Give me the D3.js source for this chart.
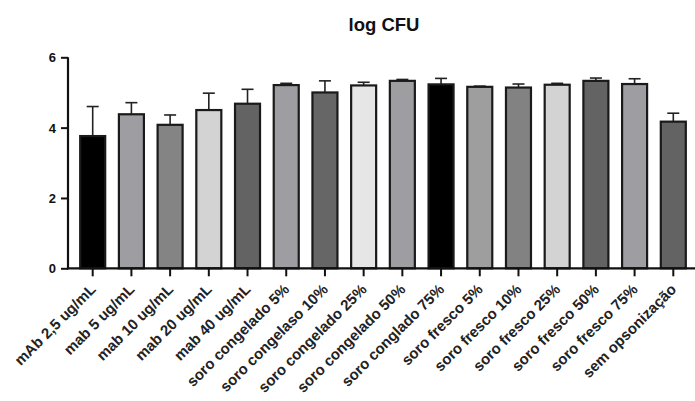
<!DOCTYPE html>
<html>
<head>
<meta charset="utf-8">
<script src="https://cdn.jsdelivr.net/npm/d3@7"></script>
<style>
  html, body { margin: 0; padding: 0; background: #fff; }
  svg { display: block; font-family: "Liberation Sans", Arial, sans-serif; }
</style>
</head>
<body>
<svg id="chart" width="695" height="401"></svg>
<script>
// Groups (opsonization conditions)
const categories = [
  "mAb 2,5 ug/mL", "mab 5 ug/mL", "mab 10 ug/mL", "mab 20 ug/mL", "mab 40 ug/mL",
  "soro congelado 5%", "soro congelaso 10%", "soro congelado 25%", "soro congelado 50%",
  "soro conglado 75%", "soro fresco 5%", "soro fresco 10%", "soro fresco 25%",
  "soro fresco 50%", "soro fresco 75%", "sem opsonização"
];
// Mean log CFU per group
const means = [3.76, 4.38, 4.08, 4.50, 4.68, 5.21, 5.00, 5.20, 5.33, 5.23, 5.16, 5.14, 5.22, 5.33, 5.24, 4.17];
// Upper error (SD) per group
const errors = [0.84, 0.33, 0.28, 0.48, 0.41, 0.05, 0.33, 0.09, 0.04, 0.17, 0.02, 0.10, 0.04, 0.08, 0.15, 0.24];
// Bar fill per group
const fills = [
  "#000000", "#9e9ea2", "#848484", "#d3d3d3", "#636363",
  "#9e9ea2", "#666666", "#e6e6e6", "#9e9ea2", "#000000",
  "#9e9e9e", "#828282", "#d3d3d3", "#636363", "#9e9ea2", "#636363"
];
const yTicks = [0, 2, 4, 6];
const title = "log CFU";

const svg = d3.select("#chart");
const plotLeft = 68, plotRight = 698, plotTop = 57.3, plotBottom = 268.3;

const x = d3.scaleBand()
  .domain(categories)
  .range([plotLeft, plotRight])
  .paddingInner(0.354)
  .paddingOuter(0.315);

const y = d3.scaleLinear().domain([0, 6]).range([plotBottom, plotTop]);

// Title
svg.append("text")
  .attr("x", 384).attr("y", 31)
  .attr("text-anchor", "middle")
  .attr("font-size", 18.5).attr("font-weight", "bold")
  .attr("fill", "#111")
  .text(title);

const data = categories.map((c, i) => ({ c, m: means[i], e: errors[i], f: fills[i] }));

const g = svg.append("g");

// Error bars (upper only) drawn behind bars
g.selectAll("line.err")
  .data(data).enter().append("line")
  .attr("class", "err")
  .attr("x1", d => x(d.c) + x.bandwidth() / 2)
  .attr("x2", d => x(d.c) + x.bandwidth() / 2)
  .attr("y1", d => y(d.m))
  .attr("y2", d => y(d.m + d.e))
  .attr("stroke", "#222").attr("stroke-width", 1.6);

g.selectAll("line.cap")
  .data(data).enter().append("line")
  .attr("class", "cap")
  .attr("x1", d => x(d.c) + x.bandwidth() / 2 - 6)
  .attr("x2", d => x(d.c) + x.bandwidth() / 2 + 6)
  .attr("y1", d => y(d.m + d.e))
  .attr("y2", d => y(d.m + d.e))
  .attr("stroke", "#222").attr("stroke-width", 1.6);

// Bars
g.selectAll("rect.bar")
  .data(data).enter().append("rect")
  .attr("class", "bar")
  .attr("x", d => x(d.c))
  .attr("width", x.bandwidth())
  .attr("y", d => y(d.m))
  .attr("height", d => y(0) - y(d.m))
  .attr("fill", d => d.f)
  .attr("stroke", "#1a1a1a").attr("stroke-width", 2.2);

// Y axis
const yAxis = svg.append("g")
  .attr("transform", `translate(${plotLeft},0)`)
  .call(d3.axisLeft(y).tickValues(yTicks).tickFormat(d3.format("d")).tickSize(7).tickSizeOuter(0));
yAxis.select(".domain").attr("stroke", "#111").attr("stroke-width", 2.2)
  .attr("d", `M0,${y(6)}V${y(0) + 1}`);
yAxis.selectAll(".tick line").attr("stroke", "#111").attr("stroke-width", 2);
yAxis.selectAll(".tick text")
  .attr("font-size", 13).attr("font-weight", "bold").attr("fill", "#111")
  .attr("x", -12).attr("dy", "0.36em")
  .attr("font-family", "Liberation Sans, Arial, sans-serif");

// X axis
const xAxis = svg.append("g")
  .attr("transform", `translate(0,${plotBottom})`)
  .call(d3.axisBottom(x).tickSize(8).tickSizeOuter(0));
xAxis.select(".domain").attr("stroke", "#111").attr("stroke-width", 2.2)
  .attr("d", `M${plotLeft - 1},0H695`);
xAxis.selectAll(".tick line").attr("stroke", "#111").attr("stroke-width", 2);
xAxis.selectAll(".tick text")
  .attr("font-size", 15).attr("font-weight", "bold").attr("fill", "#222")
  .attr("font-family", "Liberation Sans, Arial, sans-serif")
  .attr("text-anchor", "end")
  .attr("y", 0).attr("dy", 0)
  .attr("transform", "translate(4,22) rotate(-45)");
</script>
</body>
</html>
